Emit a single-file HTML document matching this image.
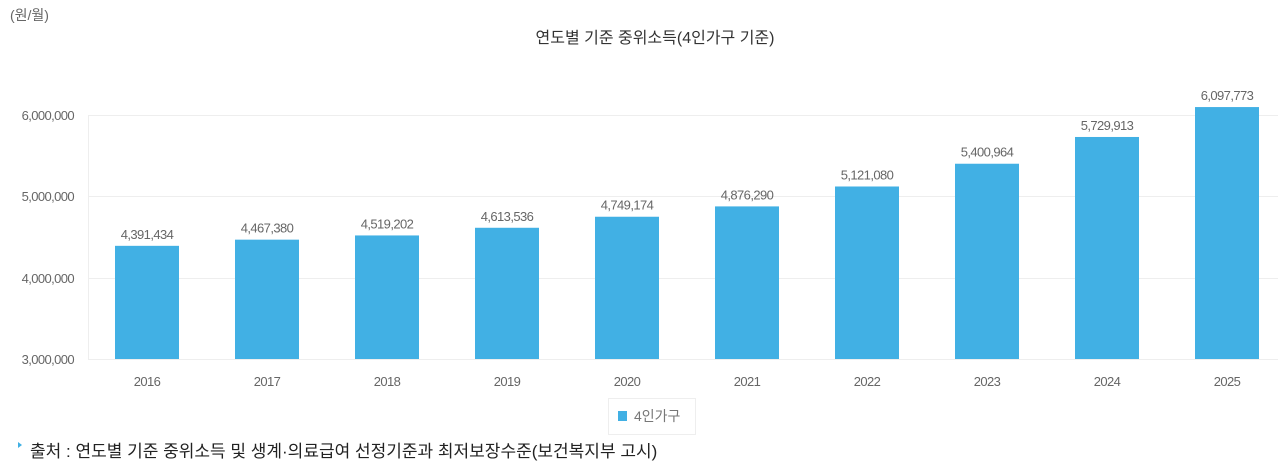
<!DOCTYPE html>
<html><head><meta charset="utf-8"><style>
body{margin:0;background:#fff;width:1280px;height:467px;overflow:hidden}
svg{display:block}
text{font-family:"Liberation Sans","Noto Sans CJK KR",sans-serif}
</style></head><body>
<svg width="1280" height="467" viewBox="0 0 1280 467">
<text x="10" y="20" font-size="14" fill="#666">(원/월)</text>
<text x="655" y="43" font-size="16" fill="#333" text-anchor="middle">연도별 기준 중위소득(4인가구 기준)</text>
<g stroke="#eee" stroke-width="1">
<line x1="88" y1="115.5" x2="1278" y2="115.5"/>
<line x1="88" y1="196.5" x2="1278" y2="196.5"/>
<line x1="88" y1="278.5" x2="1278" y2="278.5"/>
<line x1="88" y1="359.5" x2="1278" y2="359.5"/>
<line x1="88.5" y1="115" x2="88.5" y2="360"/>
</g>
<g font-size="13" fill="#666" text-anchor="end" letter-spacing="-0.6">
<text x="74" y="120">6,000,000</text>
<text x="74" y="201">5,000,000</text>
<text x="74" y="283">4,000,000</text>
<text x="74" y="364">3,000,000</text>
</g>
<g id="bars" fill="#41b0e4"></g>
<g id="labels" font-size="13" fill="#666" text-anchor="middle" letter-spacing="-0.6"></g>
<rect x="608.5" y="398.5" width="87" height="36" fill="#fff" stroke="#eee"/>
<rect x="618" y="411" width="9" height="10" fill="#41b0e4"/>
<text x="634" y="421" font-size="14" fill="#777">4인가구</text>
<path d="M18 442 L22 445 L18 448 Z" fill="#41b0e4"/>
<text x="30" y="457" font-size="17" fill="#222">출처 : 연도별 기준 중위소득 및 생계·의료급여 선정기준과 최저보장수준(보건복지부 고시)</text>
<script>
var v=[4391434,4467380,4519202,4613536,4749174,4876290,5121080,5400964,5729913,6097773];
var b=document.getElementById('bars'),l=document.getElementById('labels'),ns='http://www.w3.org/2000/svg';
v.forEach(function(d,i){
 var cx=147+120*i, y=359-(d-3000000)/1000000*81.33;
 var r=document.createElementNS(ns,'rect');r.setAttribute('x',cx-32);r.setAttribute('y',y);r.setAttribute('width',64);r.setAttribute('height',359-y);b.appendChild(r);
 var t=document.createElementNS(ns,'text');t.setAttribute('x',cx);t.setAttribute('y',y-7);t.textContent=d.toLocaleString('en-US');l.appendChild(t);
 var t2=document.createElementNS(ns,'text');t2.setAttribute('x',cx);t2.setAttribute('y',386);t2.textContent=2016+i;l.appendChild(t2);
});
</script>
</svg>
</body></html>
